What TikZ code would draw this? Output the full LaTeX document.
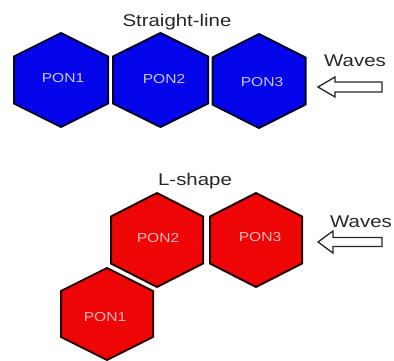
\documentclass[tikz,border=0pt]{standalone}
\usepackage{fontspec}
\usepackage{graphicx}
\setmainfont{Liberation Sans}
\definecolor{ponblue}{RGB}{5,5,235}
\definecolor{ponred}{RGB}{238,5,5}
\definecolor{edgeblue}{RGB}{5,5,40}
\definecolor{edgered}{RGB}{40,5,5}
\definecolor{labelblue}{RGB}{200,200,255}
\definecolor{labelred}{RGB}{255,185,185}
% wide sans lettering
\newcommand{\widetext}[2]{\scalebox{#1}[1]{#2}}
\tikzset{
  heading/.style={inner sep=0pt, font=\fontsize{17}{17}\selectfont, text=black!85},
  ponlabel/.style={inner sep=0pt, font=\fontsize{13}{13}\selectfont},
  bluecell/.style={draw=edgeblue, fill=ponblue, line width=2pt, line join=miter},
  redcell/.style={draw=edgered, fill=ponred, line width=2pt, line join=miter},
  wavearrow/.style={draw=black!85, fill=white, line width=1.3pt, line join=miter},
}
% pointy-top hexagon: centre x, centre y, half width, half height, style
\newcommand{\hexcell}[5]{%
  \path[#5] (#1,#2-#4) -- (#1+#3,#2-#4/2) -- (#1+#3,#2+#4/2) -- (#1,#2+#4)
    -- (#1-#3,#2+#4/2) -- (#1-#3,#2-#4/2) -- cycle;}
% hollow left arrow: tip x, axis y, head back x, head half height, shaft half height, tail x
\newcommand{\hollowarrow}[6]{%
  \path[wavearrow] (#1,#2) -- (#3,#2-#4) -- (#3,#2-#5) -- (#6,#2-#5)
    -- (#6,#2+#5) -- (#3,#2+#5) -- (#3,#2+#4) -- cycle;}
\begin{document}
\begin{tikzpicture}[x=1pt, y=-1pt]
  \useasboundingbox (0,0) rectangle (394,361);

  % straight-line arrangement
  \node[heading, anchor=base] (titleA) at (177,27) {\widetext{1.2}{Straight-line}};
  \hexcell{61}{80}{47}{47}{bluecell}
  \hexcell{160.5}{80}{47.5}{47}{bluecell}
  \hexcell{259}{81}{46.5}{47}{bluecell}
  \node[ponlabel, text=labelblue] (sA) at (63,78) {\widetext{1.2}{PON1}};
  \node[ponlabel, text=labelblue] (sB) at (164,79) {\widetext{1.2}{PON2}};
  \node[ponlabel, text=labelblue] (sC) at (262,82) {\widetext{1.2}{PON3}};
  \node[heading, anchor=base] (wavesA) at (355,67) {\widetext{1.2}{Waves}};
  \hollowarrow{318}{87}{335}{10}{5}{382}

  % L-shaped arrangement
  \node[heading, anchor=base] (titleB) at (195,185) {\widetext{1.2}{L-shape}};
  \hexcell{157}{240}{46}{47}{redcell}
  \hexcell{256}{240}{46}{47}{redcell}
  \hexcell{107}{314}{46}{46}{redcell}
  \node[ponlabel, text=labelred] (lB) at (158,238) {\widetext{1.2}{PON2}};
  \node[ponlabel, text=labelred] (lC) at (260,237) {\widetext{1.2}{PON3}};
  \node[ponlabel, text=labelred] (lA) at (105,317) {\widetext{1.2}{PON1}};
  \node[heading, anchor=base] (wavesB) at (361,227) {\widetext{1.2}{Waves}};
  \hollowarrow{318}{242}{333}{11}{4.5}{382}
\end{tikzpicture}
\end{document}
